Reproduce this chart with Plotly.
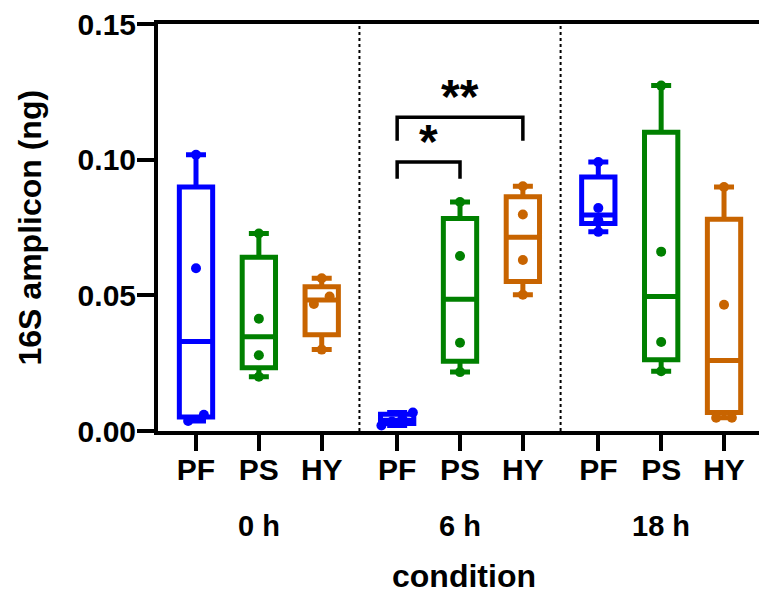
import plotly.graph_objects as go

# ---------------- data ----------------
conditions = ["0 h", "6 h", "18 h"]
treatments = ["PF", "PS", "HY"]
colors = ["#0000FF", "#008000", "#C86400"]

# box statistics, one value per condition (0 h, 6 h, 18 h)
pf_min = [0.0037, 0.0020, 0.0734]
pf_q1 = [0.0052, 0.0028, 0.0765]
pf_median = [0.0330, 0.0040, 0.0796]
pf_q3 = [0.0899, 0.0062, 0.0936]
pf_max = [0.1018, 0.0068, 0.0991]

ps_min = [0.0200, 0.0217, 0.0220]
ps_q1 = [0.0233, 0.0257, 0.0263]
ps_median = [0.0347, 0.0486, 0.0496]
ps_q3 = [0.0640, 0.0783, 0.1101]
ps_max = [0.0728, 0.0844, 0.1273]

hy_min = [0.0300, 0.0502, 0.0049]
hy_q1 = [0.0355, 0.0551, 0.0068]
hy_median = [0.0483, 0.0714, 0.0260]
hy_q3 = [0.0532, 0.0863, 0.0780]
hy_max = [0.0563, 0.0902, 0.0899]

# individual replicate values per condition
pf_points = [[0.0037, 0.0060, 0.0600, 0.1018],
             [0.0020, 0.0035, 0.0045, 0.0068],
             [0.0734, 0.0777, 0.0822, 0.0991]]
ps_points = [[0.0200, 0.0279, 0.0414, 0.0728],
             [0.0217, 0.0325, 0.0645, 0.0844],
             [0.0220, 0.0328, 0.0661, 0.1273]]
hy_points = [[0.0300, 0.0468, 0.0496, 0.0563],
             [0.0502, 0.0630, 0.0798, 0.0902],
             [0.0049, 0.0049, 0.0465, 0.0899]]

y_ticks = [0.0, 0.05, 0.10, 0.15]
comparisons = [("6 h", "PF", "PS", "*"), ("6 h", "PF", "HY", "**")]

# ---------------- layout helpers ----------------
FONT = "Liberation Sans, Arial, Helvetica, sans-serif"
GROUP_GAP = 0.2
BOX_W = 0.53


def pos(ci, ti):
    return ci * (len(treatments) + GROUP_GAP) + ti


def spread(values, thr=0.0037):
    """horizontal offsets for overlapping replicate dots"""
    order = sorted(range(len(values)), key=lambda i: values[i])
    clusters, cur = [], [order[0]]
    for a, b in zip(order, order[1:]):
        if values[b] - values[a] < thr:
            cur.append(b)
        else:
            clusters.append(cur)
            cur = [b]
    clusters.append(cur)
    off = [0.0] * len(values)
    for cl in clusters:
        k = len(cl)
        if k > 1:
            step = min(0.25, 0.5 / (k - 1))
            for j, i in enumerate(cl):
                off[i] = (j - (k - 1) / 2) * step
    return off


stats = {
    "PF": (pf_min, pf_q1, pf_median, pf_q3, pf_max, pf_points),
    "PS": (ps_min, ps_q1, ps_median, ps_q3, ps_max, ps_points),
    "HY": (hy_min, hy_q1, hy_median, hy_q3, hy_max, hy_points),
}

fig = go.Figure()
for ti, (tname, col) in enumerate(zip(treatments, colors)):
    mn, q1, md, q3, mx, pts = stats[tname]
    xs = [pos(ci, ti) for ci in range(len(conditions))]
    fig.add_trace(go.Box(
        x=xs, q1=q1, median=md, q3=q3, lowerfence=mn, upperfence=mx,
        width=BOX_W, whiskerwidth=0.6, boxpoints=False,
        line=dict(color=col, width=5), fillcolor="rgba(255,255,255,0)",
        showlegend=False, name=tname,
    ))
    px, py = [], []
    for ci in range(len(conditions)):
        offs = spread(pts[ci])
        for v, o in zip(pts[ci], offs):
            px.append(pos(ci, ti) + o)
            py.append(v)
    fig.add_trace(go.Scatter(
        x=px, y=py, mode="markers",
        marker=dict(color=col, size=10, line=dict(width=0)),
        showlegend=False, hoverinfo="y",
    ))

tickvals = [pos(ci, ti) for ci in range(len(conditions)) for ti in range(len(treatments))]
ticktext = [t for _ in conditions for t in treatments]

shapes = []
for ci in range(len(conditions) - 1):
    xm = (pos(ci, len(treatments) - 1) + pos(ci + 1, 0)) / 2
    shapes.append(dict(type="line", xref="x", yref="paper", x0=xm, x1=xm, y0=0, y1=1,
                       line=dict(color="black", width=2, dash="dot")))

bracket_levels = [(0.0991, 0.0930, 0.1086), (0.1156, 0.1070, 0.1253)]
annotations = []
for (cond, a, b, label), (top, leg, star) in zip(comparisons, bracket_levels):
    ci = conditions.index(cond)
    xa, xb = pos(ci, treatments.index(a)), pos(ci, treatments.index(b))
    shapes.append(dict(type="path", xref="x", yref="y",
                       path=f"M {xa},{leg} L {xa},{top} L {xb},{top} L {xb},{leg}",
                       line=dict(color="black", width=3.5)))
    annotations.append(dict(x=(xa + xb) / 2, y=star, xref="x", yref="y", text=label,
                            showarrow=False, yanchor="middle", yshift=-5,
                            font=dict(family=FONT, size=48, color="black", weight="bold")))

for ci, cname in enumerate(conditions):
    annotations.append(dict(x=pos(ci, 1), y=-0.2334, xref="x", yref="paper", text=cname,
                            showarrow=False, yanchor="middle",
                            font=dict(family=FONT, size=29, color="black", weight="bold")))

annotations.append(dict(x=0.5097, y=-0.357, xref="paper", yref="paper", text="condition",
                        showarrow=False, yanchor="middle", height=34, valign="middle",
                        font=dict(family=FONT, size=32, color="black", weight="bold")))
annotations.append(dict(x=-0.213, y=0.5, xref="paper", yref="paper", text="16S amplicon (ng)",
                        showarrow=False, textangle=-90, xanchor="center", yanchor="middle",
                        font=dict(family=FONT, size=32, color="black", weight="bold")))

L, R, T, B = 158, 0, 24, 162
W, H = 759, 593
unit = 62.86
x_left = (L - 196) / unit
x_right = (W - R - 196) / unit

fig.update_layout(
    width=W, height=H, autosize=False,
    margin=dict(l=L, r=R, t=T, b=B, pad=0),
    plot_bgcolor="white", paper_bgcolor="white",
    shapes=shapes, annotations=annotations,
    xaxis=dict(range=[x_left, x_right], tickvals=tickvals, ticktext=ticktext,
               showline=True, linecolor="black", linewidth=4, mirror=True,
               ticks="outside", ticklen=16, tickwidth=4, tickcolor="black",
               ticklabelstandoff=-7, automargin=False,
               showgrid=False, zeroline=False,
               tickfont=dict(family=FONT, size=30, color="black", weight="bold")),
    yaxis=dict(range=[0, 0.15], tickvals=y_ticks, tickformat=".2f",
               showline=True, linecolor="black", linewidth=4,
               ticks="outside", ticklen=17, tickwidth=4, tickcolor="black",
               ticklabelstandoff=-5, automargin=False,
               showgrid=False, zeroline=False,
               tickfont=dict(family=FONT, size=30, color="black", weight="bold")),
    boxmode="overlay",
)

fig.write_html("out.html", config={"displayModeBar": False},
               post_script="document.body.style.margin='0px';")
